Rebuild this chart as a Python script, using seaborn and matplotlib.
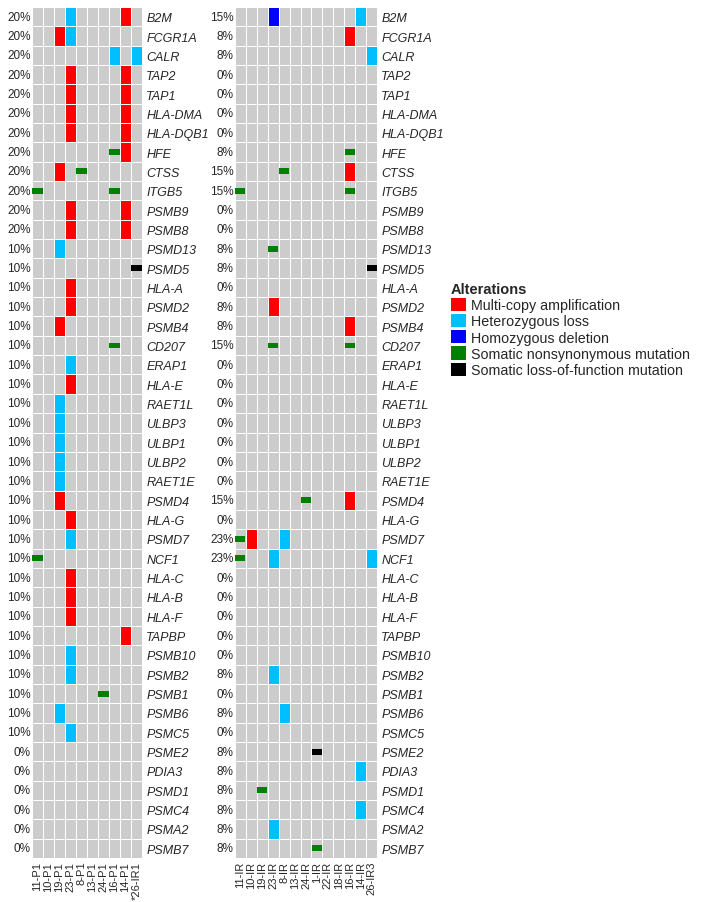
import numpy as np
import matplotlib
matplotlib.use("Agg")
import matplotlib.pyplot as plt
from matplotlib.colors import ListedColormap
from matplotlib.patches import Patch
import seaborn as sns

genes = ['B2M', 'FCGR1A', 'CALR', 'TAP2', 'TAP1', 'HLA-DMA', 'HLA-DQB1', 'HFE',
         'CTSS', 'ITGB5', 'PSMB9', 'PSMB8', 'PSMD13', 'PSMD5', 'HLA-A', 'PSMD2',
         'PSMB4', 'CD207', 'ERAP1', 'HLA-E', 'RAET1L', 'ULBP3', 'ULBP1', 'ULBP2',
         'RAET1E', 'PSMD4', 'HLA-G', 'PSMD7', 'NCF1', 'HLA-C', 'HLA-B', 'HLA-F',
         'TAPBP', 'PSMB10', 'PSMB2', 'PSMB1', 'PSMB6', 'PSMC5', 'PSME2', 'PDIA3',
         'PSMD1', 'PSMC4', 'PSMA2', 'PSMB7']

left_samples = ['11-P1', '10-P1', '19-P1', '23-P1', '8-P1', '13-P1', '24-P1',
                '16-P1', '14-P1', '*26-IR1']
right_samples = ['11-IR', '10-IR', '19-IR', '23-IR', '8-IR', '13-IR', '24-IR',
                 '1-IR', '22-IR', '18-IR', '16-IR', '14-IR', '26-IR3']

# A = amplification, H = het loss, D = hom deletion, M = nonsyn mutation, L = LOF
left_calls = [
    '...H....A.', '..AH......', '.......H.H', '...A....A.', '...A....A.',
    '...A....A.', '...A....A.', '.......MA.', '..A.M.....', 'M......M..',
    '...A....A.', '...A....A.', '..H.......', '.........L', '...A......',
    '...A......', '..A.......', '.......M..', '...H......', '...A......',
    '..H.......', '..H.......', '..H.......', '..H.......', '..H.......',
    '..A.......', '...A......', '...H......', 'M.........', '...A......',
    '...A......', '...A......', '........A.', '...H......', '...H......',
    '......M...', '..H.......', '...H......', '..........', '..........',
    '..........', '..........', '..........', '..........',
]
right_calls = [
    '...D.......H.', '..........A..', '............H', '.............',
    '.............', '.............', '.............', '..........M..',
    '....M.....A..', 'M.........M..', '.............', '.............',
    '...M.........', '............L', '.............', '...A.........',
    '..........A..', '...M......M..', '.............', '.............',
    '.............', '.............', '.............', '.............',
    '.............', '......M...A..', '.............', 'MA..H........',
    'M..H........H', '.............', '.............', '.............',
    '.............', '.............', '...H.........', '.............',
    '....H........', '.............', '.......L.....', '...........H.',
    '..M..........', '...........H.', '...H.........', '.......M.....',
]

alt_labels = ['Multi-copy amplification', 'Heterozygous loss', 'Homozygous deletion',
              'Somatic nonsynonymous mutation', 'Somatic loss-of-function mutation']
alt_colors = ['#FF0000', '#00BFFF', '#0000FF', '#008000', '#000000']
bg = '#CCCCCC'

sns.set_style('white')
plt.rcParams['font.family'] = ['Liberation Sans', 'DejaVu Sans']

fig = plt.figure(figsize=(7.01, 9.03), dpi=100)
W, H = 701, 903


def draw_panel(rect, calls, samples):
    ax = fig.add_axes(rect)
    full = {'A': 1, 'H': 2, 'D': 3}
    mat = np.array([[full.get(c, 0) for c in row] for row in calls])
    sns.heatmap(mat, ax=ax, cmap=ListedColormap([bg] + alt_colors[:3]),
                vmin=-0.5, vmax=3.5, cbar=False, linewidths=0.45, linecolor='white')
    # mutations as thin bars in the middle of the cell
    for ch, col in [('M', alt_colors[3]), ('L', alt_colors[4])]:
        pos = [(j, i) for i, row in enumerate(calls) for j, c in enumerate(row) if c == ch]
        if pos:
            xs, ys = zip(*pos)
            ax.bar(np.array(xs) + 0.5, 0.3, bottom=np.array(ys) + 0.35, width=0.92,
                   color=col, linewidth=0, zorder=3)
    n = len(samples)
    pct = [f"{round(100 * sum(c != '.' for c in row) / n)}%" for row in calls]
    ax.set_yticks(np.arange(len(calls)) + 0.5)
    ax.set_yticklabels(pct, fontsize=8.5, rotation=0)
    ax.set_xticks(np.arange(n) + 0.5)
    ax.set_xticklabels(samples, rotation=90, fontsize=8)
    ax.tick_params(axis='y', length=0, pad=1)
    ax.tick_params(axis='x', length=0, pad=2)
    rax = ax.twinx()
    rax.set_ylim(ax.get_ylim())
    rax.set_yticks(np.arange(len(genes)) + 0.5)
    rax.set_yticklabels(genes, fontsize=9, style='italic')
    rax.tick_params(axis='y', length=0, pad=3)
    for s in rax.spines.values():
        s.set_visible(False)
    return ax


draw_panel([32 / W, 44 / H, 110 / W, 851 / H], left_calls, left_samples)
draw_panel([235 / W, 44 / H, 142 / W, 851 / H], right_calls, right_samples)

handles = [Patch(facecolor=c, edgecolor='none') for c in alt_colors]
fig.legend(handles, alt_labels, title='Alterations', loc='upper left',
           bbox_to_anchor=(451 / W, 1 - 283 / H), frameon=False, alignment='left',
           fontsize=10.3, title_fontproperties={'weight': 'bold', 'size': 10.5},
           handlelength=1.05, handleheight=1.05, handletextpad=0.35,
           labelspacing=0.12, borderpad=0, borderaxespad=0)

plt.savefig('out.png', dpi=100)
